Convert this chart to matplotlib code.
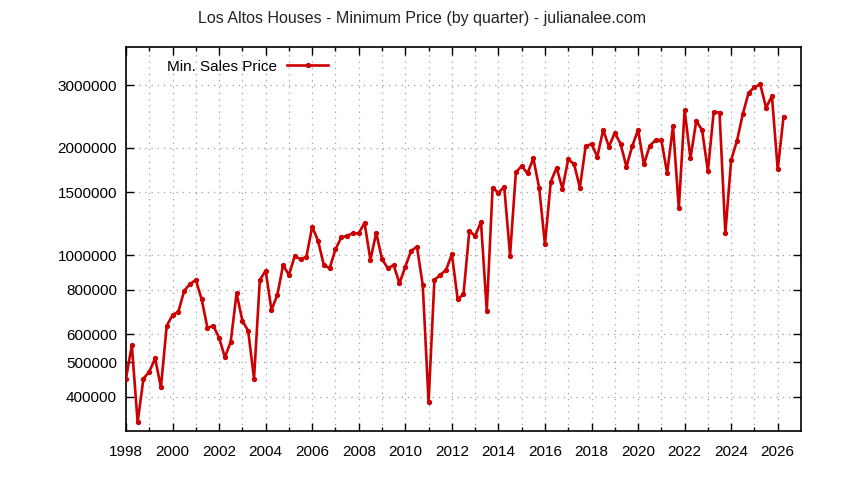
import matplotlib
matplotlib.use("Agg")
import matplotlib.pyplot as plt
from matplotlib.ticker import FixedLocator, NullFormatter, NullLocator
import numpy as np

plt.rcParams['font.family'] = ['Liberation Sans', 'DejaVu Sans']

start_year = 1998.0
prices = [
    450000, 558000, 339000, 450000, 470000, 513000, 425000, 633000,
    678000, 693000, 794000, 829000, 851000, 751000, 624000, 633000,
    586000, 516000, 571000, 781000, 654000, 612000, 450000, 851000,
    904000, 701000, 772000, 937000, 879000, 994000, 973000, 989000,
    1201000, 1097000, 937000, 918000, 1038000, 1121000, 1133000, 1151000,
    1151000, 1232000, 968000, 1155000, 974000, 918000, 937000, 833000,
    927000, 1028000, 1055000, 823000, 386000, 851000, 879000, 908000,
    1005000, 751000, 776000, 1168000, 1131000, 1240000, 698000, 1546000,
    1496000, 1555000, 997000, 1708000, 1778000, 1697000, 1869000, 1546000,
    1072000, 1607000, 1759000, 1536000, 1857000, 1801000, 1546000, 2024000,
    2050000, 1889000, 2245000, 2015000, 2206000, 2050000, 1770000, 2024000,
    2245000, 1798000, 2024000, 2104000, 2104000, 1697000, 2304000, 1352000,
    2555000, 1869000, 2379000, 2245000, 1722000, 2527000, 2511000, 1151000,
    1849000, 2094000, 2489000, 2857000, 2959000, 3017000, 2593000, 2797000,
    1741000, 2446000,
]
dates = start_year + np.arange(len(prices)) * 0.25

ytick_vals = [400000, 500000, 600000, 800000, 1000000, 1500000, 2000000, 3000000]
ytick_labels = ["400000", "500000", "600000", "800000", "1000000", "1500000", "2000000", "3000000"]
xmajor = list(range(1998, 2027, 2))
xminor = list(range(1999, 2027, 2))

title = "Los Altos Houses - Minimum Price (by quarter) - julianalee.com"
series_label = "Min. Sales Price"

fig = plt.figure(figsize=(8.44, 4.80), dpi=100)
ax = fig.add_axes([126/844, 1 - 431/480, (801-126)/844, (431-47)/480])

ax.plot(dates, prices, color="#cc0000", lw=1.9, marker="o", ms=2.8,
        label=series_label, zorder=3)

ax.set_yscale("log")
ax.set_ylim(320500, 3840000)
ax.set_xlim(1998, 2027)

ax.yaxis.set_major_locator(FixedLocator(ytick_vals))
ax.set_yticklabels(ytick_labels)
ax.yaxis.set_minor_locator(NullLocator())
ax.yaxis.set_minor_formatter(NullFormatter())

ax.xaxis.set_major_locator(FixedLocator(xmajor))
ax.set_xticklabels([str(x) for x in xmajor])
ax.xaxis.set_minor_locator(FixedLocator(xminor))

ax.tick_params(axis="both", which="major", direction="in", length=6, width=1,
               top=True, right=True, labelsize=11, colors="black")
ax.tick_params(axis="x", which="major", pad=10)
ax.tick_params(axis="y", which="major", pad=6.5)
ax.tick_params(axis="both", which="minor", direction="in", length=3, width=1,
               top=True, right=True)

ax.grid(True, which="both", color="#a0a0a0", linestyle=(0, (1, 4)), lw=0.9)
ax.set_axisbelow(True)

for s in ax.spines.values():
    s.set_linewidth(1.2)
    s.set_color("black")

fig.text(0.5, 1 - 18/480, title, ha="center", va="center", fontsize=11.5, color="#222222")

leg = ax.legend(loc="upper left", frameon=False, markerfirst=False, fontsize=11,
                handlelength=2.7, handletextpad=0.65,
                bbox_to_anchor=(0.045, 0.995), borderaxespad=0.3)

fig.savefig("out.png", dpi=100)
